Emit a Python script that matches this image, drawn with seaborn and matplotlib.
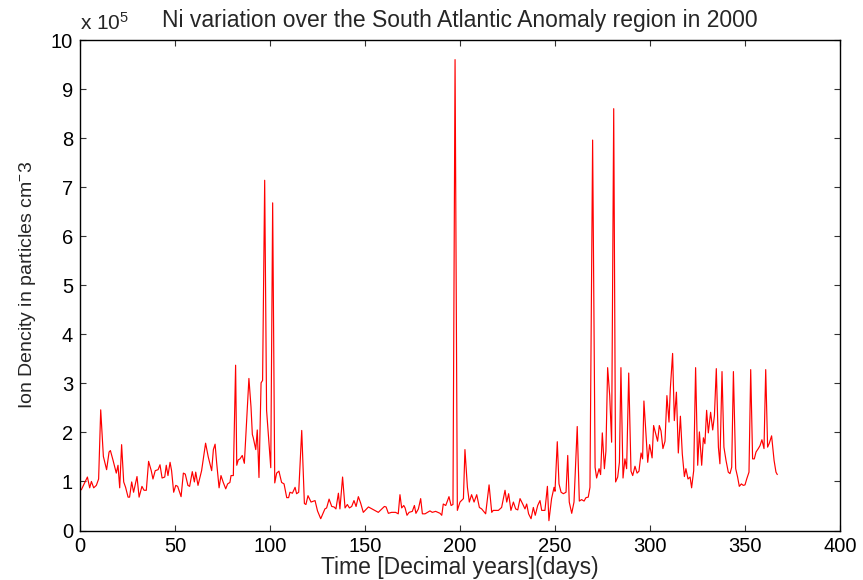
import matplotlib
matplotlib.use("Agg")
import matplotlib.pyplot as plt
import seaborn as sns
import pandas as pd

# ---- data (values in units of 1e5 particles cm^-3) ----
days_a = [0.7, 3.9, 5.1, 6.0, 7.2, 8.6, 9.8, 10.9, 12.3, 14.0,
          15.3, 16.0, 17.4, 19.1, 20.0, 20.9, 21.9, 23.0, 24.0, 25.3,
          26.1, 27.2, 28.2, 30.0, 31.1, 32.6, 33.7, 34.9, 36.1, 37.5,
          38.4, 39.6, 41.1, 42.1, 43.2, 44.6, 45.4, 46.3, 47.4, 48.2,
          49.3, 50.4, 51.4, 53.2, 54.4, 55.4, 56.8, 57.7, 59.1, 60.2,
          60.9, 62.1]
vals_a = [0.83, 1.09, 0.87, 1.00, 0.87, 0.92, 1.05, 2.46, 1.51, 1.24,
          1.60, 1.63, 1.43, 1.17, 1.33, 0.87, 1.75, 0.99, 0.88, 0.68,
          0.68, 0.99, 0.78, 1.10, 0.68, 0.90, 0.82, 0.82, 1.41, 1.22,
          1.05, 1.22, 1.24, 1.34, 1.07, 1.09, 1.33, 1.12, 1.39, 1.22,
          0.78, 0.92, 0.90, 0.69, 1.17, 1.15, 0.92, 0.90, 1.20, 0.99,
          1.19, 0.92]

days_b = [64.0, 66.1, 67.5, 69.3, 70.2, 71.1, 71.9, 73.2, 74.2, 75.4,
          76.7, 77.7, 78.9, 79.5, 80.7, 81.9, 82.5, 83.3, 84.2, 85.4,
          86.5, 88.9, 90.0, 90.7, 91.2, 92.5, 93.3, 94.2, 95.3, 96.1,
          97.2, 98.2, 100.4, 101.4, 102.5, 103.5, 104.7, 106.1, 107.4, 108.8,
          109.8, 110.5, 111.8, 113.2, 114.0, 115.1, 116.7, 118.1, 118.9, 120.0,
          121.6, 123.7, 125.0, 126.7]
vals_b = [1.22, 1.78, 1.50, 1.22, 1.65, 1.76, 1.39, 0.87, 1.12, 0.98,
          0.85, 0.95, 0.98, 1.12, 1.12, 3.37, 1.33, 1.44, 1.46, 1.53,
          1.37, 3.10, 2.52, 1.96, 1.89, 1.65, 2.05, 1.08, 3.01, 3.06,
          7.14, 2.45, 1.28, 6.68, 0.97, 1.17, 1.21, 0.98, 0.95, 0.67,
          0.67, 0.78, 0.76, 0.88, 0.75, 0.78, 2.04, 0.55, 0.53, 0.71,
          0.58, 0.61, 0.40, 0.24]

days_c = [128.9, 129.8, 131.1, 132.5, 133.7, 134.7, 136.0, 136.8, 138.2, 139.5,
          140.7, 141.8, 143.0, 144.2, 145.3, 146.5, 147.7, 149.1, 151.8, 157.0,
          160.2, 161.1, 162.3, 164.0, 166.1, 167.5, 168.4, 169.3, 170.4, 171.1,
          172.1, 173.2, 174.9, 176.0, 176.8, 178.1, 179.3, 180.2, 181.6, 184.2,
          185.4, 187.2, 189.5, 190.4, 191.2, 192.5, 194.2, 195.3, 196.3]
vals_c = [0.44, 0.46, 0.64, 0.49, 0.48, 0.44, 0.76, 0.44, 1.09, 0.46,
          0.53, 0.46, 0.49, 0.61, 0.49, 0.69, 0.56, 0.37, 0.48, 0.37,
          0.49, 0.48, 0.35, 0.37, 0.37, 0.34, 0.73, 0.46, 0.51, 0.46,
          0.31, 0.37, 0.39, 0.51, 0.35, 0.44, 0.65, 0.34, 0.34, 0.40,
          0.37, 0.39, 0.35, 0.31, 0.54, 0.51, 0.69, 0.51, 0.53]

days_d = [197.4, 198.6, 200.0, 201.8, 202.6, 203.9, 204.9, 206.1, 207.4, 208.8,
          210.2, 211.4, 213.5, 215.3, 216.7, 217.5, 220.2, 221.9, 223.7, 224.6,
          225.6, 226.8, 228.1, 229.3, 230.4, 231.6, 233.0, 234.2, 235.1, 236.1,
          237.4, 238.6, 239.6, 240.9, 242.1, 243.0, 244.7, 246.0, 246.8, 248.2,
          249.5, 250.0, 251.2, 252.1, 253.2, 254.4, 255.8, 256.7, 257.5, 258.8,
          260.0]
vals_d = [9.60, 0.41, 0.58, 0.65, 1.65, 0.88, 0.58, 0.73, 0.58, 0.73,
          0.47, 0.44, 0.34, 0.93, 0.37, 0.41, 0.41, 0.47, 0.82, 0.58,
          0.75, 0.41, 0.58, 0.44, 0.42, 0.65, 0.54, 0.44, 0.54, 0.34,
          0.24, 0.47, 0.31, 0.51, 0.61, 0.41, 0.41, 0.90, 0.20, 0.65,
          0.88, 0.80, 1.81, 0.95, 0.78, 0.75, 0.78, 1.53, 0.58, 0.35,
          0.58]

days_e = [261.7, 262.8, 264.0, 265.3, 266.3, 267.5, 268.4, 269.8, 271.1, 271.9,
          273.2, 274.0, 274.9, 276.0, 276.8, 277.7, 278.8, 279.8, 280.9, 281.9,
          283.0, 283.9, 284.7, 285.8, 286.8, 287.7, 288.8, 290.0, 290.9, 292.1,
          293.2, 294.2, 295.3, 296.1, 296.8, 298.8, 299.8, 301.1, 301.9, 303.0,
          304.0, 304.9, 305.8, 306.8, 307.9, 308.9, 310.0, 310.7, 311.9, 312.8,
          313.9, 314.9, 316.0, 317.0, 318.1, 318.9, 320.0, 321.1, 321.9, 323.0,
          324.0, 325.1, 326.0]
vals_e = [2.12, 0.60, 0.63, 0.60, 0.67, 0.68, 0.88, 7.96, 1.29, 1.07,
          1.26, 1.14, 1.99, 1.26, 1.62, 3.32, 2.75, 1.80, 8.60, 0.99,
          1.09, 1.39, 3.32, 1.07, 1.46, 1.26, 3.21, 1.21, 1.12, 1.31,
          1.17, 1.21, 1.58, 1.46, 2.64, 1.39, 1.75, 1.48, 2.14, 1.97,
          1.82, 2.14, 2.03, 1.67, 1.82, 2.75, 2.21, 2.89, 3.61, 2.24,
          2.82, 1.58, 2.33, 1.56, 1.10, 1.26, 1.05, 1.09, 0.87, 1.22,
          3.32, 1.33, 2.01]

days_f = [327.2, 328.1, 328.9, 329.8, 330.7, 331.9, 333.0, 333.9, 334.9, 336.0,
          336.8, 337.9, 338.9, 340.0, 341.2, 342.1, 343.0, 343.9, 345.1, 346.1,
          347.0, 348.1, 349.1, 350.0, 350.9, 352.1, 353.0, 354.0, 354.9, 355.8,
          357.0, 357.9, 358.9, 360.0, 360.9, 361.9, 362.8, 364.0, 365.3, 366.3,
          367.0]
vals_f = [1.33, 1.89, 1.77, 2.45, 1.99, 2.41, 2.05, 2.34, 3.30, 1.70,
          1.36, 3.24, 1.70, 1.43, 1.19, 1.16, 1.29, 3.24, 1.26, 1.09,
          0.90, 0.95, 0.92, 0.93, 1.05, 1.19, 3.28, 1.46, 1.46, 1.60,
          1.67, 1.73, 1.85, 1.67, 3.28, 1.70, 1.78, 1.93, 1.43, 1.19,
          1.14]

x_ticks = [0, 50, 100, 150, 200, 250, 300, 350, 400]
y_ticks = [0, 1, 2, 3, 4, 5, 6, 7, 8, 9, 10]

title = "Ni variation over the South Atlantic Anomaly region in 2000"
xlabel = "Time [Decimal years](days)"
ylabel = r"Ion Dencity in particles cm$^{-}$3"
scale_label = r"x 10$^{5}$"

days = days_a + days_b + days_c + days_d + days_e + days_f
vals = vals_a + vals_b + vals_c + vals_d + vals_e + vals_f
df = pd.DataFrame({"day": days, "density": vals})

# ---- style ----
sns.set_style("ticks")
plt.rcParams["font.family"] = ["Liberation Sans", "DejaVu Sans"]
plt.rcParams["mathtext.fontset"] = "custom"
plt.rcParams["mathtext.rm"] = "Liberation Sans"
plt.rcParams["mathtext.it"] = "Liberation Sans:italic"
plt.rcParams["mathtext.bf"] = "Liberation Sans:bold"

fig = plt.figure(figsize=(8.63, 5.80), dpi=100)
ax = fig.add_axes([80 / 863, 49.5 / 580, 760 / 863, 490.5 / 580])

sns.lineplot(data=df, x="day", y="density", ax=ax, color="#ff0000",
             linewidth=0.85, estimator=None, sort=False)

ax.set_xlim(0, 400)
ax.set_ylim(0, 10)
ax.set_xticks(x_ticks)
ax.set_yticks(y_ticks)
ax.set_xticklabels([str(t) for t in x_ticks])
ax.set_yticklabels([str(t) for t in y_ticks])

for side in ["top", "right", "bottom", "left"]:
    ax.spines[side].set_visible(True)
    ax.spines[side].set_linewidth(1.0)
    ax.spines[side].set_color("black")

ax.tick_params(axis="both", which="major", direction="in", length=4,
               width=0.8, color="#333333", labelsize=14.5, labelcolor="black",
               top=True, right=True, pad=5)

ax.set_title(title, fontsize=16.5, pad=9)
ax.set_xlabel(xlabel, fontsize=16.5, labelpad=0)
ax.set_ylabel(ylabel, fontsize=14, labelpad=9)
ax.text(0.0, 1.012, scale_label, transform=ax.transAxes, ha="left",
        va="bottom", fontsize=15)

fig.savefig("out.png", dpi=100)
